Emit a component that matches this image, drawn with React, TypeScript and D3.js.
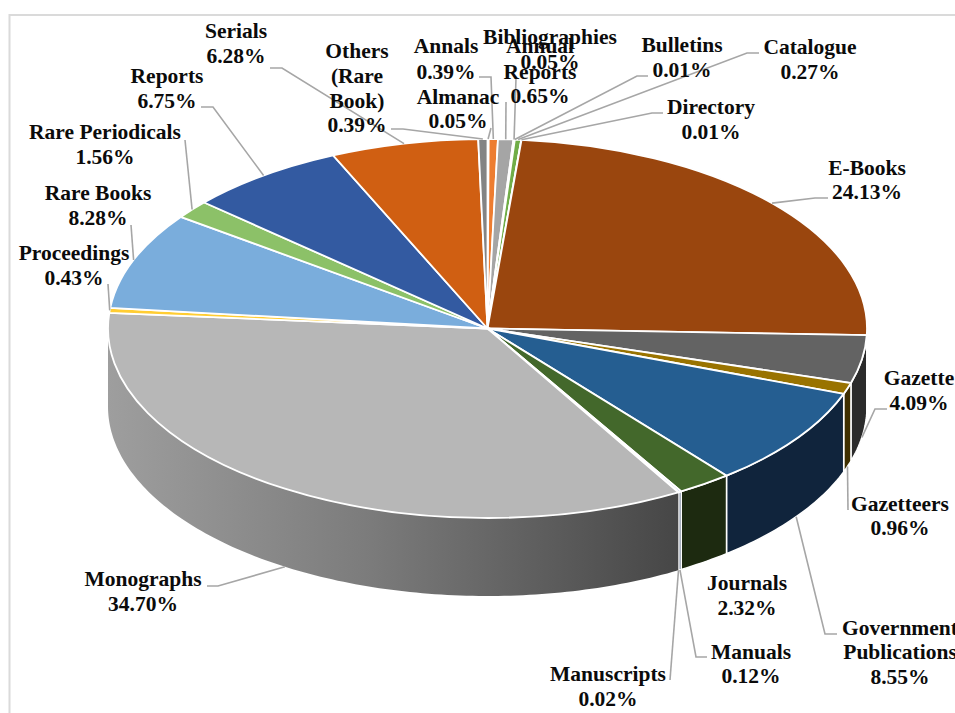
import React from "react";
import * as d3 from "d3";

const categories = ["Almanac","Annals","Annual Reports","Bibliographies","Bulletins","Catalogue","Directory","E-Books","Gazette","Gazetteers","Government Publications","Journals","Manuals","Manuscripts","Monographs","Proceedings","Rare Books","Rare Periodicals","Reports","Serials","Others (Rare Book)"];
const values = [0.05,0.39,0.65,0.05,0.01,0.27,0.01,24.13,4.09,0.96,8.55,2.32,0.12,0.02,34.70,0.43,8.28,1.56,6.75,6.28,0.39];
const topColors = ["#4472C4","#ED7D31","#A5A5A5","#FFC000","#5B9BD5","#70AD47","#264478","#9A460E","#636363","#997300","#255E91","#43682B","#698ED0","#F1975A","#B7B7B7","#FFCD33","#7AADDC","#8CC168","#335AA1","#D05F12","#848484"];
const wallColors = ["#223962","#773F18","#525252","#7F6000","#2D4E6A","#385723","#13223C","#4A2107","#2B2B2B","#3F2F00","#10243C","#1D2A10","#34476A","#78492D","url(#monoWall)","#7F6719","#3E576E","#466034","#1A2D50","#693009","#424242"];

// label placement: centre x, baselines of each line, and the leader's free end
const labelLines: string[][] = [["Almanac","0.05%"],["Annals","0.39%"],["Annual","Reports","0.65%"],["Bibliographies","0.05%"],["Bulletins","0.01%"],["Catalogue","0.27%"],["Directory","0.01%"],["E-Books","24.13%"],["Gazette","4.09%"],["Gazetteers","0.96%"],["Government","Publications","8.55%"],["Journals","2.32%"],["Manuals","0.12%"],["Manuscripts","0.02%"],["Monographs","34.70%"],["Proceedings","0.43%"],["Rare Books","8.28%"],["Rare Periodicals","1.56%"],["Reports","6.75%"],["Serials","6.28%"],["Others","(Rare","Book)","0.39%"]];
const labelX = [458,446,540,550,682,810,711,867,919,900,900,747,751,608,143,74,98,105,167,236,357];
const labelY: number[][] = [[104,128],[53,79],[53,79,103],[44,69],[52,77],[54,79],[114,139],[175,199],[385,410],[511,535],[635,659,684],[590,615],[659,683],[681,706],[586,611],[260,285],[200,225],[139,164],[83,108],[38,63],[58,83,108,132]];
const leaderFree: number[][][] = [[[491,128]],[[479,77],[491,77]],[[506,102]],[[516,78]],[[648,76],[637,76]],[[759,53],[747,53]],[[663,113],[652,113]],[[828,198],[815,198]],[[887,409],[875,409]],[[848,510]],[[837,634],[825,634]],[],[[707,657],[696,657]],[[670,680]],[[207,586],[218,586]],[[108,284]],[[131,225]],[[185,140]],[[201,107],[213,107]],[[270,68],[282,68]],[[391,129],[403,129]]];

const cx = 487.5, cy = 328.5, rx = 379.5, ry = 189.5, depth = 78;

const arcs = d3.pie<number>().sort(null).value((d) => d)(values);
const topArc = d3.arc<d3.PieArcDatum<number>>().innerRadius(0).outerRadius(rx);
const edge = (a: number, dy = 0): [number, number] => [cx + rx * Math.sin(a), cy - ry * Math.cos(a) + dy];
const line = d3.line();

function wallPath(a0: number, a1: number): string | null {
  const s = Math.max(a0, Math.PI / 2);
  const e = Math.min(a1, (3 * Math.PI) / 2);
  if (e <= s) return null;
  const n = Math.max(2, Math.ceil((e - s) * 60));
  const t = d3.range(n + 1).map((i) => s + ((e - s) * i) / n);
  const pts = [...t.map((a) => edge(a)), ...t.slice().reverse().map((a) => edge(a, depth))];
  return line(pts) + "Z";
}

function leaderEnd(a0: number, a1: number): [number, number] {
  const m = (a0 + a1) / 2;
  const front = Math.cos(m) < 0;
  return edge(m, front ? depth : 0);
}

export default function App() {
  return (
    <svg width={955} height={713} style={{ position: "absolute", left: 0, top: 0, background: "#fff" }}>
      <defs>
        <linearGradient id="monoWall" gradientUnits="userSpaceOnUse" x1={108} x2={680} y1={0} y2={0}>
          <stop offset="0" stopColor="#9E9E9E" />
          <stop offset="0.45" stopColor="#7C7C7C" />
          <stop offset="1" stopColor="#464646" />
        </linearGradient>
      </defs>
      <path d="M955,15H9.5V713" fill="none" stroke="#DADADA" strokeWidth={2} />
      <g>
        {arcs.map((d, i) => {
          const p = wallPath(d.startAngle, d.endAngle);
          return p ? <path key={i} d={p} fill={wallColors[i]} stroke="#fff" strokeWidth={i === 14 ? 0 : 1.5} /> : null;
        })}
      </g>
      <g transform={`translate(${cx},${cy}) scale(1,${ry / rx})`}>
        {arcs.map((d, i) => (
          <path key={i} d={topArc(d) ?? ""} fill={topColors[i]} stroke="#fff" strokeWidth={1.8} vectorEffect="non-scaling-stroke">
            <title>{categories[i]}</title>
          </path>
        ))}
      </g>
      <g fill="none" stroke="#A6A6A6" strokeWidth={1.6}>
        {arcs.map((d, i) =>
          leaderFree[i].length ? (
            <path key={i} d={line([...(leaderFree[i] as [number, number][]), leaderEnd(d.startAngle, d.endAngle)]) ?? ""} />
          ) : null
        )}
      </g>
      <g fontFamily="'Liberation Serif', serif" fontWeight="bold" fontSize={21.5} fill="#0b0b0b" textAnchor="middle">
        {labelLines.map((ls, i) =>
          ls.map((t, j) => (
            <text key={`${i}-${j}`} x={labelX[i]} y={labelY[i][j]}>{t}</text>
          ))
        )}
      </g>
    </svg>
  );
}
